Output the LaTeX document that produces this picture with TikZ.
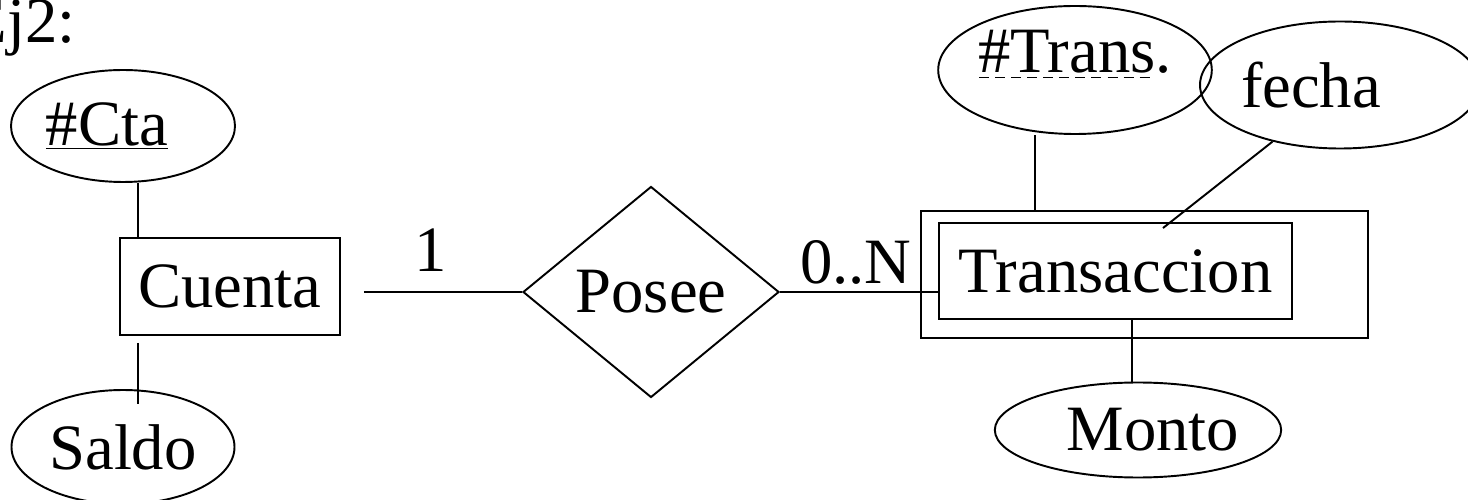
\documentclass[tikz,border=0pt]{standalone}
\usepackage{fontspec}
\setmainfont{Liberation Serif}
\usetikzlibrary{shapes.geometric}

% dashed underline for a partial key
\newcommand{\dashkey}[1]{%
  \setbox0\hbox{#1}%
  \rlap{\hbox to \wd0{\xleaders\hbox{\rule[-0.12cm]{0.2cm}{0.8pt}\hspace{0.1cm}}\hfill}}\box0}

\begin{document}
\begin{tikzpicture}[
        font=\fontsize{36.8}{44}\selectfont,
        line width=1.1pt,
        entity/.style={draw, rectangle, inner sep=0pt},
        attr/.style={draw, ellipse, inner sep=0pt},
        rel/.style={draw, diamond, inner sep=0pt, minimum width=5.12cm, minimum height=4.22cm},
        card/.style={above, inner sep=0pt}
    ]
        \useasboundingbox (0,0) rectangle (29.36,-10);

        % title
        \node[anchor=base west, inner sep=0pt] (title) at (-0.66,-0.86) {Ej2:};

        % entity Cuenta with its attributes
        \node[entity, minimum width=4.4cm, minimum height=1.94cm] (cuenta) at (4.6,-5.73) {Cuenta};
        \node[attr, minimum width=4.48cm, minimum height=2.24cm] (cta) at (2.46,-2.52) {\underline{\#Cta}\hspace*{0.64cm}};
        \node[attr, minimum width=4.46cm, minimum height=2.28cm] (saldo) at (2.46,-8.94) {Saldo};

        % relationship
        \node[rel] (posee) at (13.02,-5.84) {Posee};

        % weak entity Transaccion (double box)
        \node[entity, minimum width=8.94cm, minimum height=2.54cm] (transbox) at (22.89,-5.49) {};
        \node[entity, minimum width=7.06cm, minimum height=1.92cm] (trans) at (22.31,-5.42) {Transaccion};
        \node[attr, minimum width=4.76cm, minimum height=2.56cm] (transid) at (21.5,-1.4) {\dashkey{\#Trans}.\rule[-0.76cm]{0pt}{0.76cm}};
        \node[attr, minimum width=5.14cm, minimum height=2.54cm] (fecha) at (26.8,-1.7) {fecha\hspace*{1.16cm}};
        \node[attr, minimum width=4.18cm, minimum height=1.9cm] (monto) at (22.76,-8.6) {\hspace*{0.6cm}Monto};

        % attribute links
        \draw ([xshift=.38cm]cuenta.north west) -- ([xshift=.38cm]cuenta.north west |- cta.south);
        \draw ([xshift=.38cm,yshift=-.14cm]cuenta.south west) -- ([xshift=.38cm,yshift=-.3cm]cuenta.south west |- saldo.north);
        \draw ([xshift=2.3cm]transbox.north west) -- ([xshift=2.3cm]transbox.north west |- transid.south);
        \draw (fecha.220) -- ([xshift=.95cm,yshift=-.12cm]trans.north);
        \draw ([xshift=-.12cm]monto.north) -- ([xshift=-.12cm]monto.north |- trans.south);

        % relationship links with cardinalities
        \draw ([xshift=.46cm]cuenta.east |- posee.west) -- (posee.west)
            node[card, pos=.42, yshift=.4cm] (c1) {1};
        \draw (posee.east) -- (posee.east -| trans.west)
            node[card, pos=.48, yshift=.14cm] (c2) {0..N};
    \end{tikzpicture}
\end{document}
